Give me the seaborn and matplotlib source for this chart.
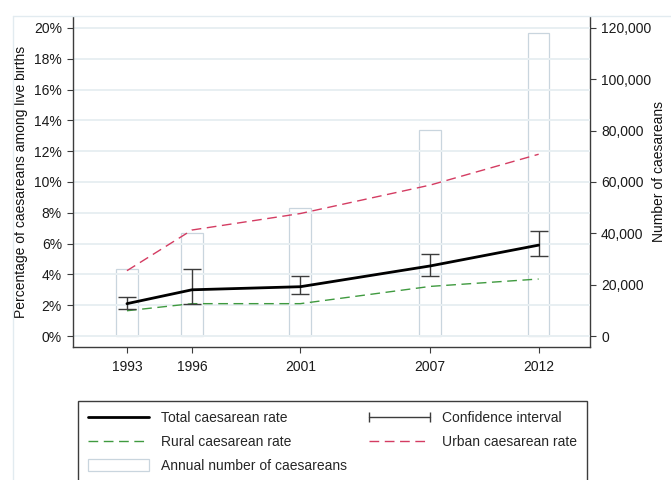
import numpy as np
import pandas as pd
import matplotlib
matplotlib.use("Agg")
import matplotlib.pyplot as plt
import matplotlib.patches as mpatches
from matplotlib.lines import Line2D
from matplotlib.legend_handler import HandlerLine2D
from matplotlib.ticker import FuncFormatter
import seaborn as sns

# ======= Data =======
years = [1993, 1996, 2001, 2007, 2012]
total_rate = [2.1, 3.0, 3.2, 4.55, 5.9]
ci_low = [1.73, 2.05, 2.73, 3.9, 5.2]
ci_high = [2.55, 4.33, 3.9, 5.33, 6.8]
rural_rate = [1.64, 2.1, 2.1, 3.22, 3.7]
urban_rate = [4.24, 6.88, 7.95, 9.8, 11.8]
annual_caesareans = [26000, 40000, 49800, 80200, 118000]

pct_ticks = list(range(0, 21, 2))
count_ticks = list(range(0, 120001, 20000))

df = pd.DataFrame({
    "year": years,
    "total": total_rate,
    "lo": ci_low,
    "hi": ci_high,
    "rural": rural_rate,
    "urban": urban_rate,
    "n": annual_caesareans,
})

# ======= Style =======
sns.set_theme(style="ticks")
plt.rcParams["font.family"] = ["Liberation Sans", "DejaVu Sans"]
plt.rcParams["font.size"] = 10

GREEN = "#3f9a3f"
URBAN = "#d43c62"
BARC = "#c9d5de"
DARK = "#3c3c3c"
GRID = "#e8eff2"
DASH = (0, (7, 4))

fig = plt.figure(figsize=(6.71, 4.80), dpi=100)
ax = fig.add_axes([73 / 671, 1 - 347 / 480, 517 / 671, 330 / 480])
ax2 = ax.twinx()
ax.set_zorder(ax2.get_zorder() + 1)
ax.patch.set_visible(False)

# bars: annual number of caesareans on the right axis
ax2.bar(df["year"], df["n"], width=1.0, facecolor="none", edgecolor=BARC, linewidth=0.9)

# rates on the left axis
sns.lineplot(data=df, x="year", y="rural", ax=ax, color=GREEN, linewidth=1.0,
             linestyle=DASH, errorbar=None, zorder=3)
sns.lineplot(data=df, x="year", y="urban", ax=ax, color=URBAN, linewidth=1.0,
             linestyle=DASH, errorbar=None, zorder=3)
ax.errorbar(df["year"], df["total"],
            yerr=[df["total"] - df["lo"], df["hi"] - df["total"]],
            fmt="none", ecolor=DARK, elinewidth=1.0, capsize=6.5, capthick=1.0, zorder=4)
sns.lineplot(data=df, x="year", y="total", ax=ax, color="black", linewidth=2.0,
             errorbar=None, zorder=5)

# ======= Axes =======
ax.set_xlim(1990.51, 2014.37)
ax.set_ylim(-0.714, 20.71)
ax2.set_ylim(-0.714 * 6000, 20.71 * 6000)

ax.set_xticks(years)
ax.set_yticks(pct_ticks)
ax.set_yticklabels([f"{v}%" for v in pct_ticks])
ax2.set_yticks(count_ticks)
ax2.yaxis.set_major_formatter(FuncFormatter(lambda v, p: f"{int(v):,}"))

ax.yaxis.grid(True, color=GRID, linewidth=1.4)
ax.xaxis.grid(False)

for s in ["top", "right"]:
    ax.spines[s].set_visible(False)
for s in ["top", "left", "bottom"]:
    ax2.spines[s].set_visible(False)
for s in ["left", "bottom"]:
    ax.spines[s].set_color(DARK)
    ax.spines[s].set_linewidth(1.0)
ax2.spines["right"].set_color(DARK)
ax2.spines["right"].set_linewidth(1.0)

ax.tick_params(axis="both", direction="out", length=4.5, width=0.8, color=DARK,
               labelsize=10, labelcolor="#1a1a1a", pad=3.5)
ax.tick_params(axis="x", pad=5)
ax2.tick_params(axis="y", direction="out", length=4.5, width=0.8, color=DARK,
                labelsize=10, labelcolor="#1a1a1a", pad=3.5)

ax.set_xlabel("")
ax.set_ylabel("Percentage of caesareans among live births", fontsize=10, color="#111111")
ax.yaxis.set_label_coords(-0.087, 0.5)
ax2.set_ylabel("Number of caesareans", fontsize=10, color="#111111")
ax2.yaxis.set_label_coords(1.12, 0.533)

# faint outer graph-region frame
fig.add_artist(Line2D([13 / 671, 13 / 671], [0, 1 - 16 / 480], transform=fig.transFigure,
                      color="#e2ebf0", linewidth=1.0))
fig.add_artist(Line2D([13 / 671, 1], [1 - 16 / 480, 1 - 16 / 480], transform=fig.transFigure,
                      color="#e2ebf0", linewidth=1.0))

# ======= Legend =======
h_total = Line2D([], [], color="black", linewidth=2.0)
h_rural = Line2D([], [], color=GREEN, linewidth=1.0, linestyle=DASH)
h_bar = mpatches.Patch(facecolor="white", edgecolor=BARC, linewidth=0.9)
h_ci = Line2D([], [], color=DARK, linewidth=1.0, marker="|", markersize=7, markeredgewidth=1.0)
h_urban = Line2D([], [], color=URBAN, linewidth=1.0, linestyle=DASH)

handles = [h_total, h_rural, h_bar, h_ci, h_urban]
labels = ["Total caesarean rate", "Rural caesarean rate", "Annual number of caesareans",
          "Confidence interval", "Urban caesarean rate"]

leg = fig.legend(handles, labels, loc="upper left",
                 bbox_to_anchor=(78 / 671, 1 - 401 / 480), bbox_transform=fig.transFigure,
                 ncol=2, frameon=True, fancybox=False, shadow=False, framealpha=1,
                 edgecolor=DARK, handlelength=4.4, handleheight=0.95, handletextpad=0.85,
                 columnspacing=1.6, labelspacing=0.72, borderpad=0.72, borderaxespad=0,
                 fontsize=10,
                 handler_map={h_ci: HandlerLine2D(numpoints=2, marker_pad=0)})
leg.get_frame().set_linewidth(1.0)

plt.savefig("out.png", dpi=100)
